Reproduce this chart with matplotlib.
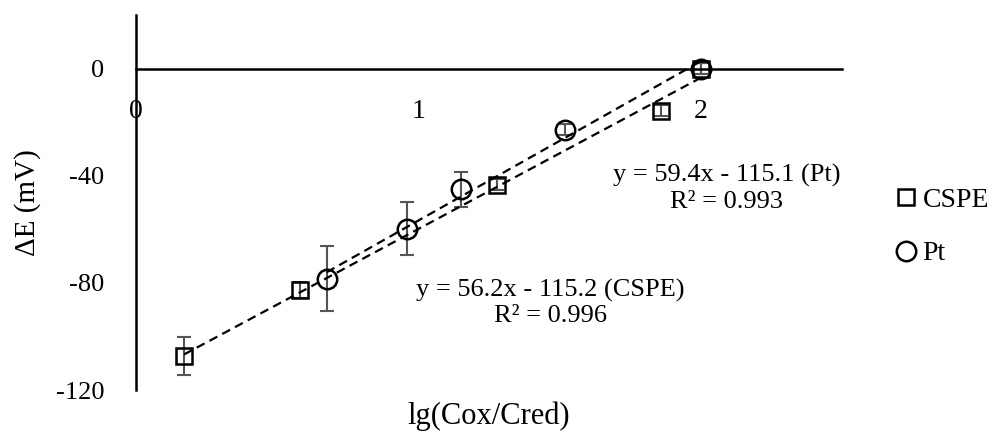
import numpy as np
import matplotlib
matplotlib.use('Agg')
import matplotlib.pyplot as plt

plt.rcParams['font.family'] = ['Liberation Serif', 'DejaVu Serif']

# data
cspe_x = [0.17, 0.58, 1.28, 1.86, 2.0]
cspe_y = [-107.3, -82.8, -43.3, -15.7, 0.0]
cspe_err = [7.0, 3.0, 2.0, 2.0, 2.0]

pt_x = [0.675, 0.958, 1.152, 1.52, 2.0]
pt_y = [-78.4, -59.7, -45.1, -22.8, 0.0]
pt_err = [12.0, 10.0, 6.5, 2.0, 2.0]

cspe_eq = 'y = 56.2x - 115.2 (CSPE)\nR² = 0.996'
pt_eq = 'y = 59.4x - 115.1 (Pt)\nR² = 0.993'

xticks = [0, 1, 2]
yticks = [-120, -80, -40, 0]

f = plt.figure(figsize=(10.03, 4.36), dpi=100)
ax = f.add_axes([0.1356, 0.1055, 0.7039, 0.860])

ax.errorbar(cspe_x, cspe_y, yerr=cspe_err, fmt='none', ecolor='#555555',
            elinewidth=1.5, capsize=5, capthick=1.5, zorder=2)
ax.errorbar(pt_x, pt_y, yerr=pt_err, fmt='none', ecolor='#555555',
            elinewidth=1.5, capsize=5, capthick=1.5, zorder=2)

# linear trend lines
for xs, ys in [(cspe_x, cspe_y), (pt_x, pt_y)]:
    k, b = np.polyfit(xs, ys, 1)
    xx = np.array([min(xs), max(xs)])
    ax.plot(xx, k * xx + b, color='black', lw=1.6, ls=(0, (4, 2.5)), zorder=3)

ax.plot(cspe_x, cspe_y, 's', ms=12, mfc='none', mec='black', mew=1.8,
        label='CSPE', zorder=4)
ax.plot(pt_x, pt_y, 'o', ms=14, mfc='none', mec='black', mew=1.8,
        label='Pt', zorder=4)

ax.set_xlim(0, 2.5)
ax.set_ylim(-120, 20)
ax.spines['top'].set_visible(False)
ax.spines['right'].set_visible(False)
ax.spines['bottom'].set_position(('data', 0))
ax.spines['left'].set_linewidth(1.8)
ax.spines['bottom'].set_linewidth(1.8)

ax.set_xticks(xticks)
ax.set_xticklabels([str(t) for t in xticks], fontsize=20)
ax.set_yticks(yticks)
ax.set_yticklabels([str(t) for t in yticks], fontsize=19)
ax.tick_params(axis='x', length=0, pad=22)
ax.tick_params(axis='y', length=0, pad=23)

ax.text(2.091, -44.7, pt_eq, ha='center', va='center', fontsize=19, linespacing=1.2)
ax.text(1.466, -87.6, cspe_eq, ha='center', va='center', fontsize=19, linespacing=1.2)

ax.set_ylabel('ΔE (mV)', fontsize=21)
ax.yaxis.set_label_coords(-0.135, 0.5)
ax.set_xlabel('lg(Cox/Cred)', fontsize=22)
ax.xaxis.set_label_coords(0.5, -0.03)

ax.legend(loc='center left', bbox_to_anchor=(1.047, 0.435), frameon=False,
          fontsize=20, handletextpad=0.1, labelspacing=1.0, handlelength=1.0,
          borderaxespad=0.2)

f.savefig('out.png', dpi=100)
